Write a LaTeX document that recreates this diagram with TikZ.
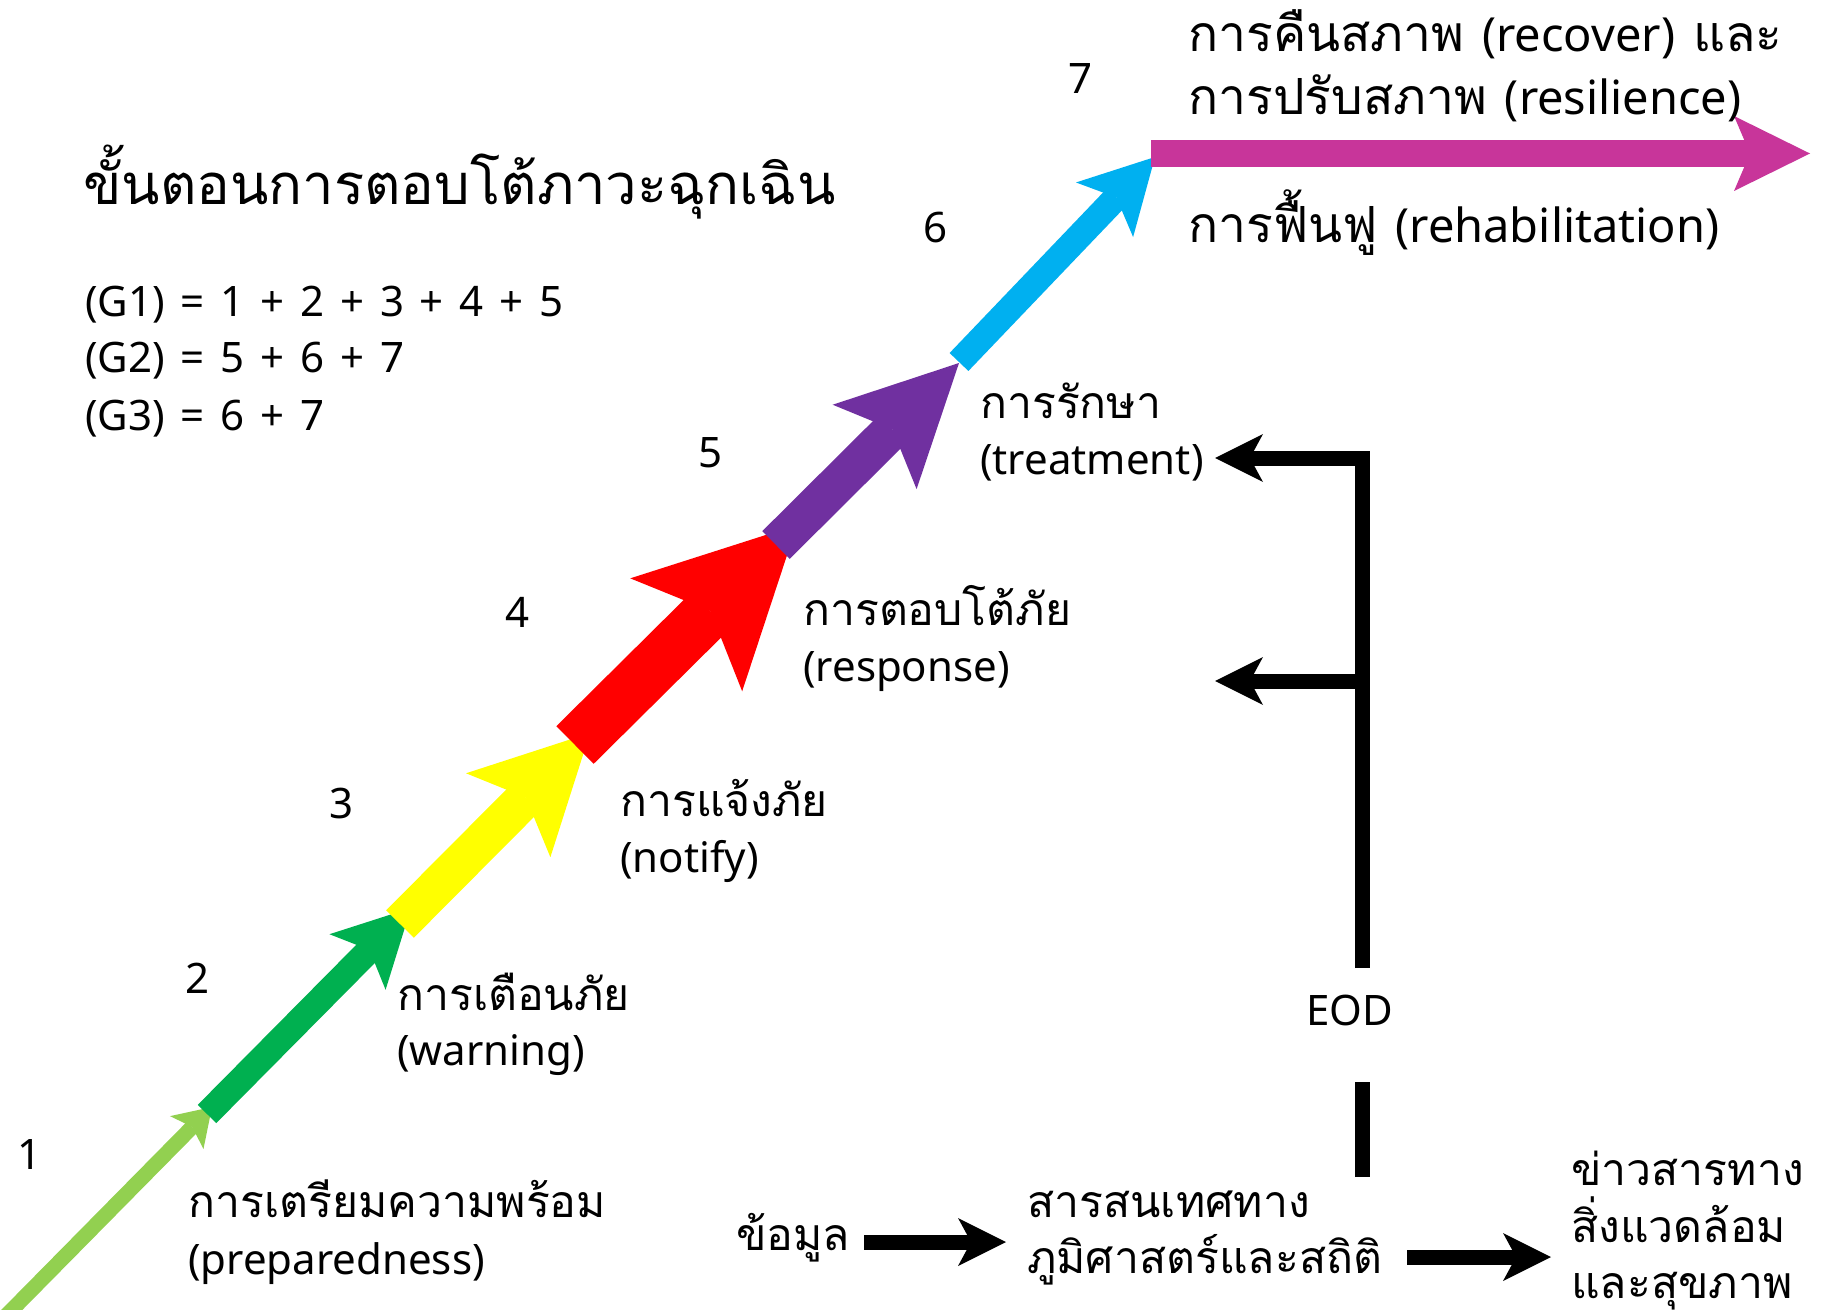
\documentclass[tikz,border=0pt]{standalone}
\usepackage{fontspec}
\setmainfont[WordSpace=1.45]{Noto Sans}
\newfontfamily\thaifont[Script=Thai,Scale=1.06]{Loma}
\newcommand{\tht}[1]{{\thaifont #1}}
\usetikzlibrary{arrows.meta}
\definecolor{cLG}{HTML}{92D050}
\definecolor{cG}{HTML}{00B050}
\definecolor{cY}{HTML}{FFFF00}
\definecolor{cR}{HTML}{FF0000}
\definecolor{cP}{HTML}{7030A0}
\definecolor{cC}{HTML}{00B0F0}
\definecolor{cM}{HTML}{C8359A}
\begin{document}
\begin{tikzpicture}[x=1bp,y=-1bp,
  txt/.style={anchor=base west, inner sep=0pt, font=\fontsize{42bp}{56bp}\selectfont},
  big/.style={anchor=base west, inner sep=0pt, font=\fontsize{47bp}{60bp}\selectfont},
  ttl/.style={anchor=base west, inner sep=0pt, font=\fontsize{53bp}{64bp}\selectfont},
  num/.style={anchor=base, inner sep=0pt, font=\fontsize{42bp}{56bp}\selectfont},
  blk/.style={line width=15bp, black, -{Stealth[length=48bp,width=48bp,inset=13bp,line width=0pt]}},
  bar/.style={line width=15bp, black},
]
\useasboundingbox (0,0) rectangle (1826,1310);
\clip (0,0) rectangle (1826,1310);
\fill[white] (0,0) rectangle (1826,1310);

% chain points
\coordinate (p0) at (-8,1330);
\coordinate (p1) at (212,1107);
\coordinate (q1) at (207,1114);
\coordinate (p2) at (411,908);
\coordinate (q2) at (400,924);
\coordinate (p3) at (590,733);
\coordinate (q3) at (575,745);
\coordinate (p4) at (797,525);
\coordinate (q4) at (776,545);
\coordinate (p5) at (959,363);
\coordinate (q5) at (959,362);
\coordinate (p6) at (1155,157);
\coordinate (q6) at (1151,153.5);
\coordinate (p7) at (1810,153.5);

\draw[line width=15bp, cLG, -{Stealth[length=36bp,width=47bp,inset=8bp,line width=0pt]}] (p0) -- (p1);
\draw[line width=26bp, cG, -{Stealth[length=76bp,width=79bp,inset=17bp,line width=0pt]}] (q1) -- (p2);
\draw[line width=39bp, cY, -{Stealth[length=116bp,width=119bp,inset=25bp,line width=0pt]}] (q2) -- (p3);
\draw[line width=53bp, cR, -{Stealth[length=156bp,width=159bp,inset=34bp,line width=0pt]}] (q3) -- (p4);
\draw[line width=39bp, cP, -{Stealth[length=119bp,width=119bp,inset=25bp,line width=0pt]}] (q4) -- (p5);
\draw[line width=26bp, cC, -{Stealth[length=73bp,width=79bp,inset=17bp,line width=0pt]}] (q5) -- (p6);
\draw[line width=27bp, cM, -{Stealth[length=76bp,width=75bp,inset=16bp,line width=0pt]}] (q6) -- (p7);

% title and formulas
\node[ttl] (title) at (83,205) {\tht{ขั้นตอนการตอบโต้ภาวะฉุกเฉิน}};
\node[txt] (g1) at (85,317) {(G1) = 1 + 2 + 3 + 4 + 5};
\node[txt] (g2) at (85,373) {(G2) = 5 + 6 + 7};
\node[txt] (g3) at (85,430) {(G3) = 6 + 7};

% step numbers
\node[num] (n1) at (30,1169) {1};
\node[num] (n2) at (198,993) {2};
\node[num] (n3) at (342,818) {3};
\node[num] (n4) at (518,627) {4};
\node[num] (n5) at (711,467) {5};
\node[num] (n6) at (936,243) {6};
\node[num] (n7) at (1080,94) {7};

% step labels
\node[txt] (s1a) at (188,1217) {\tht{การเตรียมความพร้อม}};
\node[txt] (s1b) at (188,1274) {(preparedness)};
\node[txt] (s2a) at (397,1010) {\tht{การเตือนภัย}};
\node[txt] (s2b) at (397,1065) {(warning)};
\node[txt] (s3a) at (620,816) {\tht{การแจ้งภัย}};
\node[txt] (s3b) at (620,872) {(notify)};
\node[txt] (s4a) at (803,625) {\tht{การตอบโต้ภัย}};
\node[txt] (s4b) at (803,681) {(response)};
\node[txt] (s5a) at (980,418) {\tht{การรักษา}};
\node[txt] (s5b) at (980,474) {(treatment)};
\node[big] (s7a) at (1188,52) {\tht{การคืนสภาพ} (recover) \tht{และ}};
\node[big] (s7b) at (1188,115) {\tht{การปรับสภาพ} (resilience)};
\node[big] (s6) at (1188,243) {\tht{การฟื้นฟู} (rehabilitation)};

% information flow
\node[num] (eod) at (1350,1025) {EOD};
\node[txt, anchor=base east] (data) at (850,1250) {\tht{ข้อมูล}};
\node[txt] (geo1) at (1027,1217) {\tht{สารสนเทศทาง}};
\node[txt] (geo2) at (1027,1273) {\tht{ภูมิศาสตร์และสถิติ}};
\node[txt] (news1) at (1571,1185) {\tht{ข่าวสารทาง}};
\node[txt] (news2) at (1571,1242) {\tht{สิ่งแวดล้อม}};
\node[txt] (news3) at (1571,1298) {\tht{และสุขภาพ}};

\coordinate (vtop) at (1362,451);
\coordinate (vmid) at (1362,681);
\coordinate (veod) at (1362,968);
\coordinate (vlow) at (1362,1082);
\coordinate (vgeo) at (1362,1177);
\coordinate (hTreat) at (1369,458);
\coordinate (tTreat) at (1215,458);
\coordinate (tResp) at (1215,681);
\coordinate (dStart) at (864,1242);
\coordinate (dEnd) at (1006,1242);
\coordinate (gStart) at (1407,1257);
\coordinate (gEnd) at (1551,1257);

\draw[bar] (vgeo) -- (vlow);
\draw[bar] (veod) -- (vtop);
\draw[blk] (hTreat) -- (tTreat);
\draw[blk] (vmid) -- (tResp);
\draw[blk] (dStart) -- (dEnd);
\draw[blk] (gStart) -- (gEnd);
\end{tikzpicture}
\end{document}
